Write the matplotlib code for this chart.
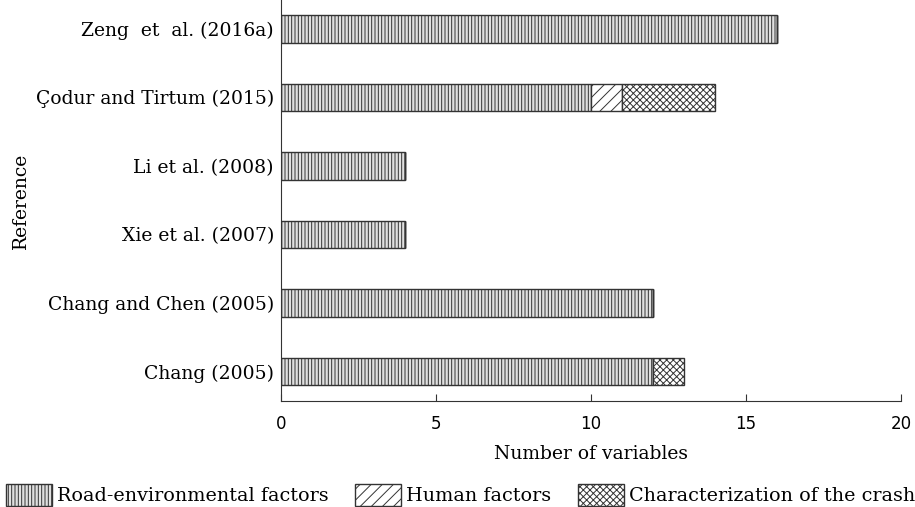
import matplotlib.pyplot as plt
import numpy as np

plt.rcParams['hatch.linewidth'] = 0.7

references = ['Chang (2005)', 'Chang and Chen (2005)', 'Xie et al. (2007)',
              'Li et al. (2008)', 'Çodur and Tirtum (2015)', 'Zeng  et  al. (2016a)']
road = [12, 12, 4, 4, 10, 16]
human = [0, 0, 0, 0, 1, 0]
crash = [1, 0, 0, 0, 3, 0]

series = [('Road-environmental factors', road, '|' * 5, '#e0e0e0'),
          ('Human factors', human, '/' * 3, 'white'),
          ('Characterization of the crash', crash, 'x' * 5, 'white')]

fig, ax = plt.subplots(figsize=(9.15, 5.07), dpi=100)
fig.subplots_adjust(left=0.307, right=0.985, bottom=0.209, top=1.0)

y = np.arange(len(references))
left = np.zeros(len(references))
handles = []
for name, vals, hatch, face in series:
    vals = np.array(vals, dtype=float)
    b = ax.barh(y, vals, left=left, height=0.4, color=face, edgecolor='#333333',
                hatch=hatch, linewidth=1.0, label=name)
    handles.append(b)
    left += vals

ax.set_xlim(0, 20)
ax.set_ylim(-0.43, 5.42)
ax.set_xticks([0, 5, 10, 15, 20])
ax.set_yticks(y)
ax.set_yticklabels(references, family='DejaVu Serif', fontsize=13.5)
ax.tick_params(axis='y', length=0, pad=5)
ax.tick_params(axis='x', direction='in', length=5, labelsize=12, pad=10, color='#333333')
for s in ['top', 'right']:
    ax.spines[s].set_visible(False)
for s in ['left', 'bottom']:
    ax.spines[s].set_color('#333333')

ax.set_xlabel('Number of variables', family='DejaVu Serif', fontsize=13.5, labelpad=9)
ax.set_ylabel('Reference', family='DejaVu Serif', fontsize=13.5, labelpad=4)

fig.legend(handles=handles, loc='center', bbox_to_anchor=(0.503, 0.024), ncol=3,
           frameon=False, prop={'family': 'DejaVu Serif', 'size': 13.8},
           handlelength=2.4, handleheight=1.35, handletextpad=0.25, columnspacing=1.4,
           borderpad=0, borderaxespad=0)

fig.savefig('out.png', dpi=100)
